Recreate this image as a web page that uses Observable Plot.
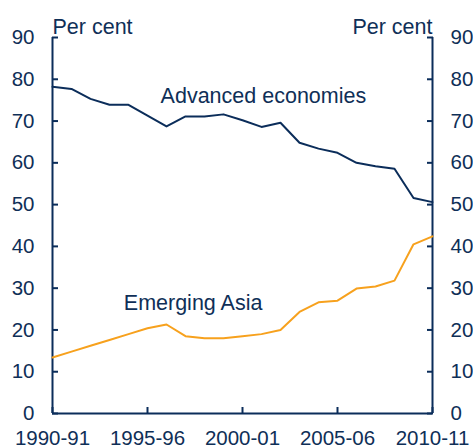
<!DOCTYPE html>
<html>
<head>
<meta charset="utf-8">
<script src="https://cdn.jsdelivr.net/npm/d3@7"></script>
<script src="https://cdn.jsdelivr.net/npm/@observablehq/plot@0.6"></script>
<style>
  html, body { margin: 0; padding: 0; background: #fff; }
  #chart svg { display: block; }
</style>
</head>
<body>
<div id="chart"></div>
<script>
const years = [1990,1991,1992,1993,1994,1995,1996,1997,1998,1999,2000,2001,2002,2003,2004,2005,2006,2007,2008,2009,2010];
const advanced = [78.2,77.7,75.3,73.9,73.9,71.3,68.7,71.1,71.1,71.6,70.2,68.6,69.6,64.8,63.4,62.4,60.0,59.2,58.6,51.6,50.6];
const emergingAsia = [13.4,14.8,16.2,17.6,19.0,20.4,21.3,18.5,18.0,18.0,18.5,19.0,20.0,24.3,26.6,27.0,29.9,30.4,31.8,40.5,42.4];
const xTicks = [1990,1995,2000,2005,2010];
const xTickLabels = ["1990-91","1995-96","2000-01","2005-06","2010-11"];
const yTicks = [0,10,20,30,40,50,60,70,80,90];
const seriesLabels = ["Advanced economies","Emerging Asia"];
const labelX = [2001.1, 1997.4];
const labelY = [75.9, 26.5];

const navy = "#0b2d5a";
const orange = "#f7a11d";
const textColor = "#0f2f57";

const adv = years.map((y, i) => ({year: y, value: advanced[i]}));
const asia = years.map((y, i) => ({year: y, value: emergingAsia[i]}));
const labels = seriesLabels.map((t, i) => ({text: t, x: labelX[i], y: labelY[i]}));

const chart = Plot.plot({
  width: 473,
  height: 448,
  marginLeft: 52,
  marginRight: 41,
  marginTop: 37,
  marginBottom: 35,
  style: {fontFamily: "Arial, 'Liberation Sans', sans-serif", fontSize: "20.5px", color: textColor, background: "#fff"},
  x: {domain: [years[0], years[years.length - 1]]},
  y: {domain: [0, 90]},
  marks: [
    Plot.axisY({anchor: "left", ticks: yTicks, tickSize: -6, tickPadding: 24, label: null, stroke: navy, strokeWidth: 2, fill: textColor, fontSize: 20.5}),
    Plot.axisY({anchor: "right", ticks: yTicks, tickSize: -6, tickPadding: 24, label: null, stroke: navy, strokeWidth: 2, fill: textColor, fontSize: 20.5, textAnchor: "start"}),
    Plot.axisX({anchor: "bottom", ticks: xTicks, tickFormat: (d) => xTickLabels[xTicks.indexOf(d)], tickSize: -6, tickPadding: 23, label: null, stroke: navy, strokeWidth: 2, fill: textColor, fontSize: 20.5}),
    Plot.ruleX([years[0], years[years.length - 1]], {stroke: navy, strokeWidth: 2}),
    Plot.ruleY([0], {stroke: navy, strokeWidth: 2}),
    Plot.line(adv, {x: "year", y: "value", stroke: navy, strokeWidth: 2}),
    Plot.line(asia, {x: "year", y: "value", stroke: orange, strokeWidth: 2}),
    Plot.text(labels, {x: "x", y: "y", text: "text", fill: textColor, fontSize: 21.5, textAnchor: "middle", lineAnchor: "middle"}),
    Plot.text(["Per cent"], {frameAnchor: "top-left", text: (d) => d, textAnchor: "start", lineAnchor: "bottom", dy: -4, fill: textColor, fontSize: 21.5}),
    Plot.text(["Per cent"], {frameAnchor: "top-right", text: (d) => d, textAnchor: "end", lineAnchor: "bottom", dy: -4, fill: textColor, fontSize: 21.5})
  ]
});
document.getElementById("chart").appendChild(chart);
</script>
</body>
</html>
